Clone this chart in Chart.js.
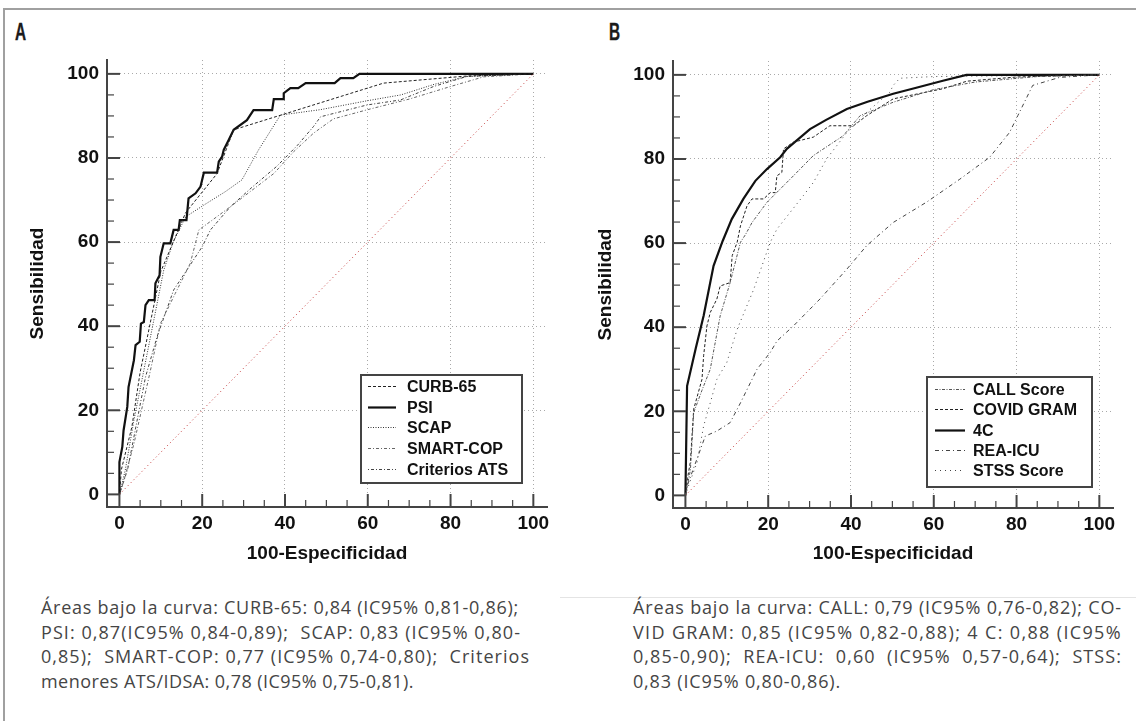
<!DOCTYPE html>
<html>
<head>
<meta charset="utf-8">
<script src="https://cdn.jsdelivr.net/npm/chart.js@4.4.1/dist/chart.umd.min.js"></script>
<style>
html,body{margin:0;padding:0;background:#fff;}
body{width:1136px;height:721px;position:relative;overflow:hidden;}
#frame{position:absolute;left:3px;top:8px;right:-4px;bottom:-4px;border-top:2px solid #a0a0a0;border-left:2px solid #a0a0a0;}
.letter{position:absolute;font-family:"Liberation Sans","DejaVu Sans",sans-serif;font-weight:bold;font-size:24px;color:#1a1a1a;line-height:1;transform:scaleX(0.64);transform-origin:0 0;-webkit-text-stroke:0.4px #1a1a1a;}
canvas{position:absolute;}
.cap{position:absolute;font-family:"Open Sans",sans-serif;font-size:18px;color:#454545;line-height:24.7px;}
.cap div{white-space:nowrap;}
#sep{position:absolute;left:560px;top:597px;width:576px;height:1px;background:#e4e4e4;}
</style>
</head>
<body>
<div id="frame"></div>
<div class="letter" style="left:15px;top:20px;">A</div>
<div class="letter" style="left:609px;top:20px;">B</div>
<canvas id="chartA" width="570" height="540" style="left:0px;top:40px;"></canvas>
<canvas id="chartB" width="570" height="540" style="left:566px;top:40px;"></canvas>
<div id="sep"></div>
<div class="cap" id="capA" style="left:41px;top:595px;">
  <div class="jl" data-w="478">Áreas bajo la curva: CURB-65: 0,84 (IC95% 0,81-0,86);</div>
  <div class="jl" data-w="480">PSI: 0,87(IC95% 0,84-0,89);&nbsp; SCAP: 0,83 (IC95% 0,80-</div>
  <div class="jl" data-w="489">0,85);&nbsp; SMART-COP: 0,77 (IC95% 0,74-0,80);&nbsp; Criterios</div>
  <div class="jl" data-w="373">menores ATS/IDSA: 0,78 (IC95% 0,75-0,81).</div>
</div>
<div class="cap" id="capB" style="left:633px;top:595px;">
  <div class="jl" data-w="489">Áreas bajo la curva: CALL: 0,79 (IC95% 0,76-0,82); CO-</div>
  <div class="jl" data-w="489">VID GRAM: 0,85 (IC95% 0,82-0,88); 4 C: 0,88 (IC95%</div>
  <div class="jl" data-w="489">0,85-0,90);&nbsp; REA-ICU:&nbsp; 0,60&nbsp; (IC95%&nbsp; 0,57-0,64);&nbsp; STSS:</div>
  <div class="jl" data-w="208">0,83 (IC95% 0,80-0,86).</div>
</div>
<script>
// ---------- DATA ----------
const tickValues = [0,5,10,15,20,25,30,35,40,45,50,55,60,65,70,75,80,85,90,95,100];
const tickLabels = [0,20,40,60,80,100];
const diagonal = [[0,0],[100,100]];

// Panel A
const labelsA = ['CURB-65','PSI','SCAP','SMART-COP','Criterios ATS'];
const curb65 = [[0,0],[0.5,6],[3,16],[5,29],[7.5,41],[10,53],[16,67],[23.6,76.3],[27.6,86.7],[63.8,97.8],[84,99.5],[100,100]];
const psi = [[0,0],[0,7.7],[0.7,11.3],[1.0,15.2],[1.9,20.8],[2.2,25.5],[3.5,31.9],[3.9,35.5],[4.9,36.3],[5.2,40.6],[5.9,41.0],[6.3,45.0],[7.1,46.2],[8.5,46.2],[8.7,50.2],[9.7,52.1],[9.9,56.5],[10.7,59.7],[12.3,59.7],[12.7,61.3],[13.1,62.9],[14.3,62.9],[14.6,65.2],[16.2,65.2],[16.7,70.4],[18.4,71.6],[19.6,73.2],[20.4,76.5],[23.6,76.5],[24.0,79.1],[24.8,80.3],[25.2,81.9],[26.4,84.3],[27.6,86.7],[30.8,89.0],[32.4,91.4],[36.9,91.4],[37.3,94.0],[39.7,94.0],[39.7,95.4],[41.3,96.6],[43.2,96.6],[45.0,97.8],[52.0,97.8],[53.4,99.0],[56.5,99.0],[58.0,100],[100,100]];
const scap = [[0,0],[1.4,5.7],[3.5,17.6],[5.9,29.5],[8.3,41.4],[10.7,53.3],[13,60],[16,66],[20.4,68.8],[25.6,72],[29.6,74.8],[33.6,81.9],[38.9,90.2],[48.6,91.5],[59.8,93.6],[68,95],[76,97.5],[84,99.4],[100,100]];
const smartCop = [[0,0],[1,3],[3.5,12],[7.5,29.5],[9.9,40.6],[13.5,47.8],[17.1,54.9],[19.2,62.9],[22.4,65.2],[26.8,68.4],[31.6,72],[37.3,76.3],[42.1,81.5],[46.9,85.9],[51.7,89.3],[60,91.5],[70,94],[80,97],[88,99.3],[100,100]];
const criteriosAts = [[0,0],[2,6],[6.3,27.9],[9.1,37.5],[13.1,48.6],[20,58.9],[22,62.9],[26.8,68.4],[32,73],[38,78],[43,83],[46.9,87.5],[48.6,89.8],[59.8,92.6],[67.9,93.8],[75.9,97],[84,99.4],[100,100]];

// Panel B
const labelsB = ['CALL Score','COVID GRAM','4C','REA-ICU','STSS Score'];
const callScore = [[0,0],[1.2,6],[2,19.7],[4,25],[6,30],[8.4,42.7],[10.8,50.6],[13.3,60.2],[14.5,62],[16.1,64.9],[19.7,69.7],[26.1,76],[30.9,80.8],[38.1,85.5],[42.2,90.3],[50.2,93.5],[60,96.5],[70,98.3],[85,99.6],[100,100]];
const covidGram = [[0,0],[0.5,4],[1.2,8],[2,20.5],[4,27.6],[4.4,33.2],[5.2,40.3],[6,43.5],[7.6,46.7],[8.4,49.8],[10.8,50.6],[11.3,57],[12.5,60.2],[13.3,64.1],[14.9,68.9],[16.1,70.5],[18.9,70.5],[20.5,72],[21.7,72],[22.1,76],[23.3,76.8],[23.7,82.4],[26.1,84],[30.9,85.2],[34.9,87.9],[40.6,87.9],[43.8,90.3],[50.2,94.3],[62.2,96.7],[68,98.5],[80,99.5],[100,100]];
const fourC = [[0,0],[0.4,26],[2.5,35],[4.4,42.7],[6.8,54.6],[9,60.5],[11.2,65.7],[14,70.5],[16.9,74.8],[19.7,77.6],[22.9,80.4],[24.5,82.4],[30.1,87.1],[34,89.3],[39,91.9],[44,93.6],[50.2,95.5],[56,97],[62.2,98.6],[67.9,100],[100,100]];
const reaIcu = [[0,0],[0.4,2.2],[4.8,14.1],[7.6,15.3],[10.8,17.3],[13.3,22],[17.3,30],[20.5,34],[22.1,36.7],[26.1,40.3],[32.5,46.7],[39,53.8],[43.8,59.4],[50.2,64.9],[58.2,69.7],[66.3,75.2],[73.5,80.4],[78.3,86.3],[80.3,90.3],[82.3,94.3],[83.9,97.5],[90.4,99.4],[100,100]];
const stssScore = [[0,0],[1,3],[2.8,7.8],[4.4,16.5],[6,22],[7.6,27.6],[10,31.6],[12.5,39.5],[16.5,49],[20.5,60.2],[22.1,63.3],[28.5,71.3],[30.9,74.4],[34.1,80],[39,86.3],[43.8,91.1],[49.4,95.9],[50.2,97.5],[51.8,99.2],[60,99.6],[100,100]];

// ---------- HELPERS ----------
const FONT = '"Liberation Sans", Arial, Helvetica, sans-serif';
const pts = a => a.map(p => ({x: p[0], y: p[1]}));

function lineDs(label, arr, color, width, dash) {
  return {label, data: pts(arr), borderColor: color, borderWidth: width, borderDash: dash,
    pointRadius: 0, pointHoverRadius: 0, fill: false, tension: 0, showLine: true};
}
function diagDs() {
  return {label: '', data: pts(diagonal), borderColor: '#c23434', borderWidth: 1, borderDash: [1, 3],
    pointRadius: 0, fill: false, tension: 0};
}

const inwardTicks = {
  id: 'inwardTicks',
  afterDatasetsDraw(chart) {
    const {ctx, chartArea, scales} = chart;
    const xs = scales.x, ys = scales.y;
    ctx.save();
    ctx.strokeStyle = '#444';
    xs.ticks.forEach(t => {
      const major = tickLabels.includes(t.value);
      const px = xs.getPixelForValue(t.value);
      ctx.lineWidth = major ? 2 : 1.2;
      ctx.beginPath();
      ctx.moveTo(px, chartArea.bottom);
      ctx.lineTo(px, chartArea.bottom - (major ? 13 : 7));
      ctx.stroke();
    });
    ys.ticks.forEach(t => {
      const major = tickLabels.includes(t.value);
      const py = ys.getPixelForValue(t.value);
      ctx.lineWidth = major ? 2 : 1.2;
      ctx.beginPath();
      ctx.moveTo(chartArea.left, py);
      ctx.lineTo(chartArea.left + (major ? 13 : 7), py);
      ctx.stroke();
    });
    ctx.restore();
  }
};

const boxLegend = {
  id: 'boxLegend',
  afterDraw(chart, args, o) {
    const {ctx, chartArea} = chart;
    const left = chartArea.right - o.right - o.width;
    const top = chartArea.bottom - o.bottom - o.height;
    ctx.save();
    ctx.fillStyle = '#fff';
    ctx.fillRect(left, top, o.width, o.height);
    ctx.strokeStyle = '#444';
    ctx.lineWidth = 2;
    ctx.strokeRect(left, top, o.width, o.height);
    ctx.font = 'bold 16px ' + FONT;
    ctx.textBaseline = 'middle';
    ctx.textAlign = 'left';
    let i = 0;
    chart.data.datasets.forEach(ds => {
      if (!ds.label) return;
      const cy = Math.round(top + o.firstRow + i * o.rowGap) + 0.5;
      ctx.save();
      ctx.strokeStyle = ds.borderColor;
      ctx.lineWidth = ds.borderWidth;
      ctx.setLineDash(ds.borderDash || []);
      ctx.beginPath();
      ctx.moveTo(left + o.sx0, cy);
      ctx.lineTo(left + o.sx1, cy);
      ctx.stroke();
      ctx.restore();
      ctx.fillStyle = '#111';
      ctx.fillText(ds.label, left + o.tx, cy + 1);
      i++;
    });
    ctx.restore();
  }
};

function makeChart(id, datasets, legendOpts, padTop, xH, yTitlePad) {
  const tickFont = {family: FONT, size: 19, weight: 'bold'};
  const titleFont = {family: FONT, size: 19, weight: 'bold'};
  const gridColor = c => (c.tick && c.tick.value !== 0 && tickLabels.includes(c.tick.value)) ? '#a9a9a9' : 'rgba(0,0,0,0)';
  const setTicks = s => { s.ticks = tickValues.map(v => ({value: v})); };
  const fmt = v => tickLabels.includes(v) ? String(v) : '';
  return new Chart(document.getElementById(id), {
    type: 'line',
    data: {datasets},
    options: {
      responsive: false,
      animation: false,
      events: [],
      layout: {padding: {left: 0, top: padTop, right: 23, bottom: 0}},
      plugins: {legend: {display: false}, tooltip: {enabled: false}, boxLegend: legendOpts},
      scales: {
        x: {
          type: 'linear', min: -3, max: 103.3, bounds: 'data',
          afterBuildTicks: setTicks,
          afterFit: s => { s.height = xH; },
          ticks: {autoSkip: false, maxRotation: 0, padding: 5, color: '#111', font: tickFont, callback: fmt},
          grid: {drawTicks: false, color: gridColor, lineWidth: 1},
          border: {display: true, color: '#444', width: 2, dash: [1, 3]},
          title: {display: true, text: '100-Especificidad', color: '#111', font: titleFont, padding: {top: 0, bottom: 15}}
        },
        y: {
          type: 'linear', min: -3, max: 103.3, bounds: 'data',
          afterBuildTicks: setTicks,
          afterFit: s => { s.width = 107; },
          ticks: {autoSkip: false, padding: 8, color: '#111', font: tickFont, callback: fmt},
          grid: {drawTicks: false, color: gridColor, lineWidth: 1},
          border: {display: true, color: '#444', width: 2, dash: [1, 3]},
          title: {display: true, text: 'Sensibilidad', color: '#111', font: titleFont, padding: {top: yTitlePad, bottom: 0}}
        }
      }
    },
    plugins: [inwardTicks, boxLegend]
  });
}

const dsA = [
  diagDs(),
  lineDs(labelsA[0], curb65, '#222', 1, [3, 2]),
  lineDs(labelsA[1], psi, '#111', 2.2, []),
  lineDs(labelsA[2], scap, '#333', 1, [1, 1.5]),
  lineDs(labelsA[3], smartCop, '#666', 1, [3, 2, 1, 2]),
  lineDs(labelsA[4], criteriosAts, '#444', 1, [1, 2, 3, 2])
];
const dsB = [
  diagDs(),
  lineDs(labelsB[0], callScore, '#555', 1, [3, 1.5, 1, 1.5]),
  lineDs(labelsB[1], covidGram, '#222', 1, [3, 2]),
  lineDs(labelsB[2], fourC, '#111', 2.2, []),
  lineDs(labelsB[3], reaIcu, '#444', 1, [4, 3, 1, 3]),
  lineDs(labelsB[4], stssScore, '#444', 1, [1, 4])
];

makeChart('chartA', dsA, {width: 161, height: 108, right: 25, bottom: 24, firstRow: 11, rowGap: 20.7, sx0: 7, sx1: 35, tx: 46}, 20, 73, 26);
makeChart('chartB', dsB, {width: 165, height: 110, right: 21, bottom: 21, firstRow: 12, rowGap: 20.3, sx0: 8, sx1: 38, tx: 46}, 21, 72, 28);

// fit caption lines to their measured widths in the reference (letter spacing)
document.querySelectorAll('.jl').forEach(el => {
  const target = parseFloat(el.dataset.w);
  el.style.display = 'inline-block';
  const w = el.getBoundingClientRect().width;
  const n = el.textContent.trim().length;
  el.style.letterSpacing = ((target - w) / n) + 'px';
  el.style.display = 'block';
});
</script>
</body>
</html>
